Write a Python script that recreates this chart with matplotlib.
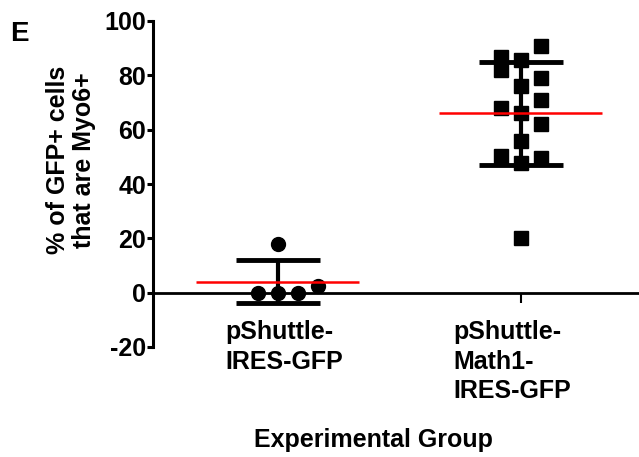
"""Scatter of % Myo6+ among GFP+ cells per group, mean (red) +/- SD bars."""
import numpy as np
import matplotlib
matplotlib.use("Agg")
import matplotlib.pyplot as plt
from matplotlib.transforms import ScaledTranslation

plt.rcParams["font.family"] = ["Liberation Sans", "DejaVu Sans"]
plt.rcParams["font.weight"] = "bold"
plt.rcParams["axes.unicode_minus"] = False

groups = ["pShuttle-\nIRES-GFP", "pShuttle-\nMath1-\nIRES-GFP"]
ctrl_vals = [18.0, 0.0, 0.0, 0.0, 2.5]
math1_vals = [90.7, 79.1, 71.1, 62.1, 49.6,
              86.9, 81.8, 67.8, 50.2,
              85.8, 76.0, 66.2, 55.7, 47.8, 20.1]
# horizontal slot of each point (GraphPad-style spreading)
ctrl_slots = [0, -1, 0, 1, 2]
math1_slots = [1, 1, 1, 1, 1, -1, -1, -1, -1, 0, 0, 0, 0, 0, 0]
yticks = [-20, 0, 20, 40, 60, 80, 100]

W, H = 639, 457
fig = plt.figure(figsize=(W / 100, H / 100), dpi=100)
ax = fig.add_axes([153 / W, 1 - 347 / H, (W - 153) / W, 326 / H])

slot_w = 0.082
for xc, vals, slots, mk in [(1, ctrl_vals, ctrl_slots, "o"), (2, math1_vals, math1_slots, "s")]:
    vals = np.array(vals)
    xs = xc + np.array(slots) * slot_w
    ax.plot(xs, vals, ls="none", marker=mk, ms=10, color="black", mec="black", zorder=3)
    m, sd = vals.mean(), vals.std(ddof=1)
    ax.errorbar([xc], [m], yerr=[sd], fmt="none", ecolor="black", elinewidth=3,
                capsize=30, capthick=3.5, zorder=2)
    ax.hlines(m, xc - 0.335, xc + 0.335, color="red", lw=1.8, zorder=4)

ax.set_xlim(0.486, 2.486)
ax.set_ylim(-20, 100)
ax.set_yticks(yticks)
ax.set_xticks([1, 2])
ax.set_xticklabels([])
ax.tick_params(axis="y", labelsize=18, length=4.5, width=2.2, pad=0.5)
ax.tick_params(axis="x", length=7, width=1.5)
for t in ax.get_yticklabels():
    t.set_fontweight("bold")

# group labels: left-aligned blocks under each group, nudged like the original
for i, (lab, dx) in enumerate(zip(groups, [6, -9])):
    tr = ax.get_xaxis_transform() + ScaledTranslation(dx / 100, 0, fig.dpi_scale_trans)
    ax.text(i + 1, 0.083, lab, transform=tr, ha="center", va="top",
            multialignment="left", fontsize=18, fontweight="bold", linespacing=1.3)

for s in ["top", "right"]:
    ax.spines[s].set_visible(False)
ax.spines["left"].set_linewidth(2.2)
ax.spines["bottom"].set_position(("data", 0))
ax.spines["bottom"].set_linewidth(2.0)

fig.text(71 / W, 1 - 160 / H, "% of GFP+ cells\nthat are Myo6+", rotation=90,
         ha="center", va="center", fontsize=18, fontweight="bold", linespacing=1.1)
fig.text(373 / W, 1 - 447 / H, "Experimental Group", ha="center", va="baseline",
         fontsize=18, fontweight="bold")
fig.text(10 / W, 1 - 41 / H, "E", ha="left", va="baseline", fontsize=20, fontweight="bold")

fig.savefig("out.png", dpi=100)
